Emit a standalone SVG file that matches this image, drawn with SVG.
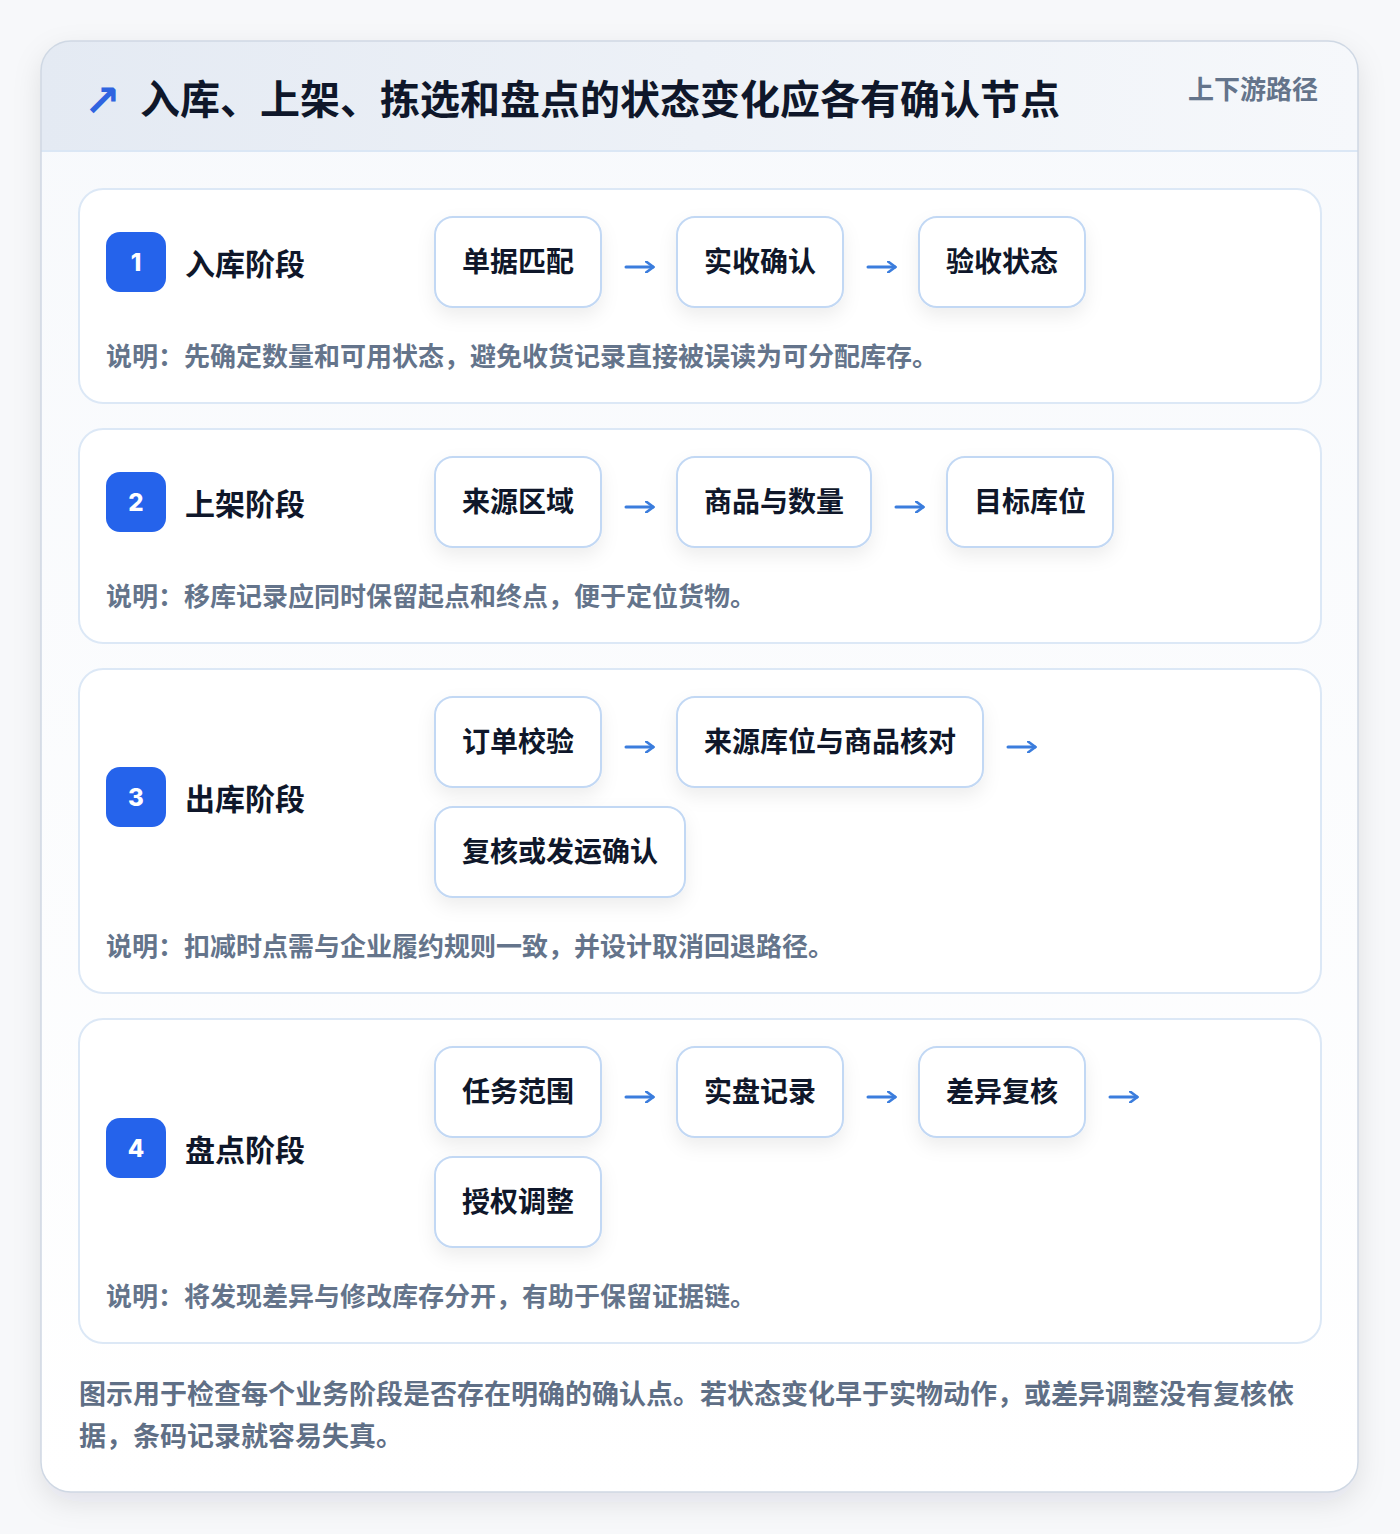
<svg xmlns="http://www.w3.org/2000/svg" width="1400" height="1534" viewBox="0 0 1400 1534">
<defs>
<linearGradient id="hdr" x1="0" y1="0" x2="1" y2="0"><stop offset="0" stop-color="#e4eaf3"/><stop offset="1" stop-color="#f6f8fb"/></linearGradient>
<linearGradient id="body" x1="0" y1="0" x2="0" y2="1"><stop offset="0" stop-color="#f7f9fc"/><stop offset="1" stop-color="#ffffff"/></linearGradient>
<filter id="cardSh" x="-10%" y="-10%" width="120%" height="120%"><feDropShadow dx="0" dy="10" stdDeviation="14" flood-color="#0f172a" flood-opacity="0.10"/></filter>
<filter id="nodeSh" x="-30%" y="-30%" width="160%" height="170%"><feDropShadow dx="0" dy="8" stdDeviation="9" flood-color="#0f172a" flood-opacity="0.07"/></filter>
<clipPath id="cardClip"><rect x="41" y="41" width="1317" height="1451" rx="30"/></clipPath>
<marker id="ah" viewBox="0 0 10 12" refX="8" refY="6" markerWidth="10" markerHeight="12" markerUnits="userSpaceOnUse" orient="auto"><path d="M1,0.5 L8.5,6 L1,11.5" fill="none" stroke="#3b7ddd" stroke-width="2.6" stroke-linecap="round" stroke-linejoin="round"/></marker>
</defs>
<style>
text{font-family:"Noto Sans CJK SC","Noto Sans",sans-serif;font-weight:700}
.title{font-size:40px;fill:#0f172a}
.tag{font-size:26px;fill:#64748b}
.stage{fill:#ffffff;stroke:#dce8f6;stroke-width:2}
.badge{fill:#2563eb}
.bnum{font-size:24px;fill:#ffffff;font-family:"Inter","DejaVu Sans",sans-serif;font-weight:800}
.slabel{font-size:30px;fill:#0f172a}
.node rect{fill:#ffffff;stroke:#c2d8f4;stroke-width:2}
.ntext{font-size:28px;fill:#0f172a}
.note{font-size:26px;fill:#64748b}
.foot{font-size:27px;fill:#5f6f86}
</style>
<rect width="1400" height="1534" fill="#f7f8fa"/>
<g id="card">
<rect x="41" y="41" width="1317" height="1451" rx="30" fill="url(#body)" filter="url(#cardSh)"/>
<g clip-path="url(#cardClip)">
<rect x="41" y="41" width="1317" height="110" fill="url(#hdr)"/>
<line x1="41" y1="151" x2="1358" y2="151" stroke="#dbe7f5" stroke-width="2"/>
</g>
<rect x="41" y="41" width="1317" height="1451" rx="30" fill="none" stroke="#cfd8e4" stroke-width="1.5"/>
</g>
<g id="header">
<text x="84" y="116" font-size="44" fill="#2f64e0" style="font-family:'DejaVu Sans',sans-serif;font-weight:700">↗</text>
<text class="title" x="140" y="114">入库、上架、拣选和盘点的状态变化应各有确认节点</text>
<text class="tag" x="1318" y="99" text-anchor="end">上下游路径</text>
</g>

<g id="stage1">
<rect class="stage" x="79" y="189" width="1242" height="214" rx="24"/>
<rect class="badge" x="106" y="232" width="60" height="60" rx="14"/>
<text class="bnum" x="136" y="271" text-anchor="middle">1</text>
<text class="slabel" x="185" y="275">入库阶段</text>
<text class="note" x="106" y="366">说明：先确定数量和可用状态，避免收货记录直接被误读为可分配库存。</text>
</g>
<g id="n1a" class="node"><rect x="435" y="217" width="166" height="90" rx="18" filter="url(#nodeSh)"/><text class="ntext" x="518" y="272" text-anchor="middle">单据匹配</text></g>
<g id="n1b" class="node"><rect x="677" y="217" width="166" height="90" rx="18" filter="url(#nodeSh)"/><text class="ntext" x="760" y="272" text-anchor="middle">实收确认</text></g>
<g id="n1c" class="node"><rect x="919" y="217" width="166" height="90" rx="18" filter="url(#nodeSh)"/><text class="ntext" x="1002" y="272" text-anchor="middle">验收状态</text></g>

<g id="stage2">
<rect class="stage" x="79" y="429" width="1242" height="214" rx="24"/>
<rect class="badge" x="106" y="472" width="60" height="60" rx="14"/>
<text class="bnum" x="136" y="511" text-anchor="middle">2</text>
<text class="slabel" x="185" y="515">上架阶段</text>
<text class="note" x="106" y="606">说明：移库记录应同时保留起点和终点，便于定位货物。</text>
</g>
<g id="n2a" class="node"><rect x="435" y="457" width="166" height="90" rx="18" filter="url(#nodeSh)"/><text class="ntext" x="518" y="512" text-anchor="middle">来源区域</text></g>
<g id="n2b" class="node"><rect x="677" y="457" width="194" height="90" rx="18" filter="url(#nodeSh)"/><text class="ntext" x="774" y="512" text-anchor="middle">商品与数量</text></g>
<g id="n2c" class="node"><rect x="947" y="457" width="166" height="90" rx="18" filter="url(#nodeSh)"/><text class="ntext" x="1030" y="512" text-anchor="middle">目标库位</text></g>

<g id="stage3">
<rect class="stage" x="79" y="669" width="1242" height="324" rx="24"/>
<rect class="badge" x="106" y="767" width="60" height="60" rx="14"/>
<text class="bnum" x="136" y="806" text-anchor="middle">3</text>
<text class="slabel" x="185" y="810">出库阶段</text>
<text class="note" x="106" y="956">说明：扣减时点需与企业履约规则一致，并设计取消回退路径。</text>
</g>
<g id="n3a" class="node"><rect x="435" y="697" width="166" height="90" rx="18" filter="url(#nodeSh)"/><text class="ntext" x="518" y="752" text-anchor="middle">订单校验</text></g>
<g id="n3b" class="node"><rect x="677" y="697" width="306" height="90" rx="18" filter="url(#nodeSh)"/><text class="ntext" x="830" y="752" text-anchor="middle">来源库位与商品核对</text></g>
<g id="n3c" class="node"><rect x="435" y="807" width="250" height="90" rx="18" filter="url(#nodeSh)"/><text class="ntext" x="560" y="862" text-anchor="middle">复核或发运确认</text></g>

<g id="stage4">
<rect class="stage" x="79" y="1019" width="1242" height="324" rx="24"/>
<rect class="badge" x="106" y="1118" width="60" height="60" rx="14"/>
<text class="bnum" x="136" y="1157" text-anchor="middle">4</text>
<text class="slabel" x="185" y="1161">盘点阶段</text>
<text class="note" x="106" y="1306">说明：将发现差异与修改库存分开，有助于保留证据链。</text>
</g>
<g id="n4a" class="node"><rect x="435" y="1047" width="166" height="90" rx="18" filter="url(#nodeSh)"/><text class="ntext" x="518" y="1102" text-anchor="middle">任务范围</text></g>
<g id="n4b" class="node"><rect x="677" y="1047" width="166" height="90" rx="18" filter="url(#nodeSh)"/><text class="ntext" x="760" y="1102" text-anchor="middle">实盘记录</text></g>
<g id="n4c" class="node"><rect x="919" y="1047" width="166" height="90" rx="18" filter="url(#nodeSh)"/><text class="ntext" x="1002" y="1102" text-anchor="middle">差异复核</text></g>
<g id="n4d" class="node"><rect x="435" y="1157" width="166" height="90" rx="18" filter="url(#nodeSh)"/><text class="ntext" x="518" y="1212" text-anchor="middle">授权调整</text></g>

<g id="connectors" fill="none" stroke="#3b7ddd" stroke-width="3" stroke-linecap="round">
<path d="M626,267 H653" marker-end="url(#ah)"/>
<path d="M868,267 H895" marker-end="url(#ah)"/>
<path d="M626,507 H653" marker-end="url(#ah)"/>
<path d="M896,507 H923" marker-end="url(#ah)"/>
<path d="M626,747 H653" marker-end="url(#ah)"/>
<path d="M1008,747 H1035" marker-end="url(#ah)"/>
<path d="M626,1097 H653" marker-end="url(#ah)"/>
<path d="M868,1097 H895" marker-end="url(#ah)"/>
<path d="M1110,1097 H1137" marker-end="url(#ah)"/>
</g>

<g id="footer">
<text class="foot" x="79" y="1404">图示用于检查每个业务阶段是否存在明确的确认点。若状态变化早于实物动作，或差异调整没有复核依</text>
<text class="foot" x="79" y="1446">据，条码记录就容易失真。</text>
</g>
</svg>
